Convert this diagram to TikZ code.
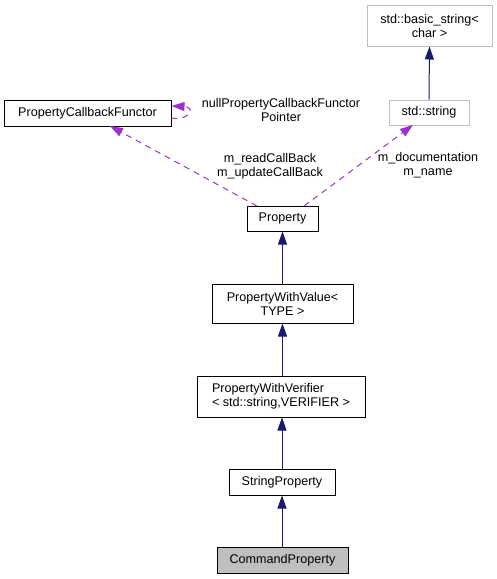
\documentclass[tikz,border=0pt]{standalone}
\usepackage{fontspec}
\setmainfont{Liberation Sans}
\usetikzlibrary{arrows.meta}
\definecolor{navy}{HTML}{191970}
\definecolor{dpurple}{HTML}{9A32CD}
\definecolor{gborder}{HTML}{BFBFBF}
\begin{document}
\begin{tikzpicture}[x=1pt,y=-1pt,
  font=\fontsize{12.6}{14}\selectfont,
  box/.style={draw=black, line width=1pt, fill=white, inner sep=0pt, align=center},
  extbox/.style={box, draw=gborder},
  inherit/.style={draw=navy, line width=1pt, -{Triangle[length=13pt,width=9pt,fill=navy]}},
  usage/.style={draw=dpurple, line width=1pt, dash pattern=on 6pt off 5pt, -{Triangle[length=13pt,width=9pt,fill=dpurple]}},
  lbl/.style={align=center, inner sep=0pt}]
\useasboundingbox (0,0) rectangle (497,579);
\node[extbox, minimum width=125pt, minimum height=41pt] (bs) at (429.5,25.5) {std::basic\_string\textless\\char \textgreater};
\node[extbox, minimum width=80pt, minimum height=25pt] (ss) at (429,112.5) {std::string};
\node[box, minimum width=167pt, minimum height=26pt] (pcf) at (87.5,113) {PropertyCallbackFunctor};
\node[box, minimum width=71pt, minimum height=25pt] (prop) at (282.5,218.5) {Property};
\node[box, minimum width=141pt, minimum height=39pt] (pwv) at (282.5,303.5) {PropertyWithValue\textless\\TYPE \textgreater};
\node[box, minimum width=168pt, minimum height=41pt, align=left] (pver) at (281,396.5) {PropertyWithVerifier\\\textless{} std::string,VERIFIER \textgreater};
\node[box, minimum width=106pt, minimum height=26pt] (sp) at (282,482) {StringProperty};
\node[box, fill=gborder, minimum width=131pt, minimum height=26pt] (cp) at (282.5,560) {CommandProperty};

\draw[inherit] (ss.north) -- (bs.south);
\draw[inherit] (pwv.north) -- (prop.south);
\draw[inherit] (pver.north -| pwv.south) -- (pwv.south);
\draw[inherit] (sp.north) -- (sp.north |- pver.south);
\draw[inherit] (cp.north -| sp.south) -- (sp.south);

\coordinate (pcfA) at (110,126);
\coordinate (propA) at (257,206);
\coordinate (ssA) at (413,125);
\coordinate (propB) at (304,206);
\draw[usage] (propA) -- (pcfA);
\draw[usage] (propB) -- (ssA);
\draw[usage] ([yshift=-5pt]pcf.east) .. controls (190,121) and (196,107) .. ([yshift=7pt]pcf.east);

\node[lbl] (l1) at (281,110) {nullPropertyCallbackFunctor\\Pointer};
\node[lbl] (l2) at (270,166) {m\_readCallBack\\m\_updateCallBack};
\node[lbl] (l3) at (428,165) {m\_documentation\\m\_name};
\end{tikzpicture}
\end{document}
